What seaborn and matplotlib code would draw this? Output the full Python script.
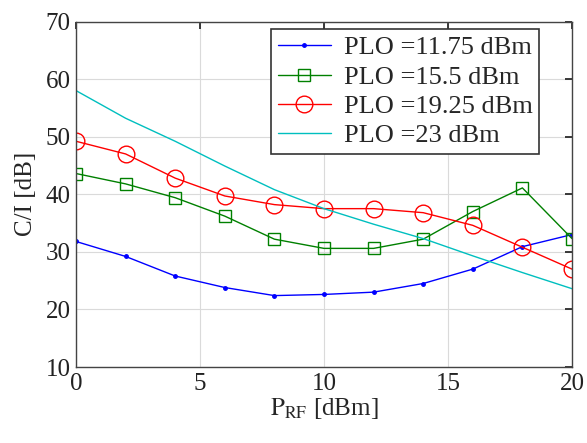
import numpy as np
import pandas as pd
import matplotlib
matplotlib.use("Agg")
import matplotlib.pyplot as plt
import seaborn as sns

p_rf = [0, 2, 4, 6, 8, 10, 12, 14, 16, 18, 20]
plo_1175 = [31.8, 29.2, 25.8, 23.8, 22.4, 22.6, 23.0, 24.5, 27.0, 30.9, 33.0]
plo_155 = [43.6, 41.8, 39.4, 36.2, 32.2, 30.6, 30.6, 32.2, 37.0, 41.1, 32.3]
plo_1925 = [49.2, 47.0, 42.8, 39.7, 38.2, 37.5, 37.5, 36.8, 34.6, 30.8, 27.0]
plo_23 = [58.0, 53.2, 49.2, 44.9, 40.8, 37.5, 34.8, 32.3, 29.3, 26.4, 23.6]
labels = ["PLO =11.75 dBm", "PLO =15.5 dBm", "PLO =19.25 dBm", "PLO =23 dBm"]
xticks = [0, 5, 10, 15, 20]
yticks = [10, 20, 30, 40, 50, 60, 70]

sns.set_theme(style="white")
plt.rcParams['font.family'] = ['Liberation Serif', 'DejaVu Serif']
plt.rcParams['mathtext.fontset'] = 'stix'

fig = plt.figure(figsize=(5.87, 4.43), dpi=100)
ax = fig.add_axes([76/587, 1-367/443, (572-76)/587, (367-21.5)/443])

series = [plo_1175, plo_155, plo_1925, plo_23]
colors = ["#0000ff", "#008000", "#ff0000", "#00bfbf"]
markers = [".", "s", "o", None]
msizes = [5, 9, 12, 0]
for vals, lab, c, m, ms in zip(series, labels, colors, markers, msizes):
    df = pd.DataFrame({"x": p_rf, "y": vals})
    kw = {}
    if m is not None:
        kw = dict(marker=m, markersize=ms,
                  markerfacecolor=(c if m == "." else "none"),
                  markeredgecolor=c, markeredgewidth=1.0)
    sns.lineplot(data=df, x="x", y="y", ax=ax, color=c, linewidth=1.0,
                 label=lab, **kw)

ax.set_xlim(0, 20)
ax.set_ylim(10, 70)
ax.set_xticks(xticks)
ax.set_yticks(yticks)
ax.grid(True, color="#dadada", linewidth=0.8)
ax.tick_params(direction="in", length=5, top=True, right=True,
               labelsize=18, colors="#222222", pad=4)
for s in ax.spines.values():
    s.set_color("#444444")
    s.set_linewidth(1.0)
ax.set_xlabel(r"$\mathrm{P}_{\mathrm{RF}}$ [dBm]", fontsize=18, labelpad=1)
ax.set_ylabel("C/I [dB]", fontsize=18, labelpad=6)

leg = ax.legend(loc="upper right", bbox_to_anchor=(0.95, 1.0), fontsize=19,
                frameon=True, fancybox=False, handlelength=2.0,
                borderpad=0.25, labelspacing=0.22, handletextpad=0.5,
                borderaxespad=0.3)
leg.get_frame().set_edgecolor("#333333")
leg.get_frame().set_linewidth(1.2)
leg.get_frame().set_alpha(1)

fig.savefig("out.png", dpi=100)
